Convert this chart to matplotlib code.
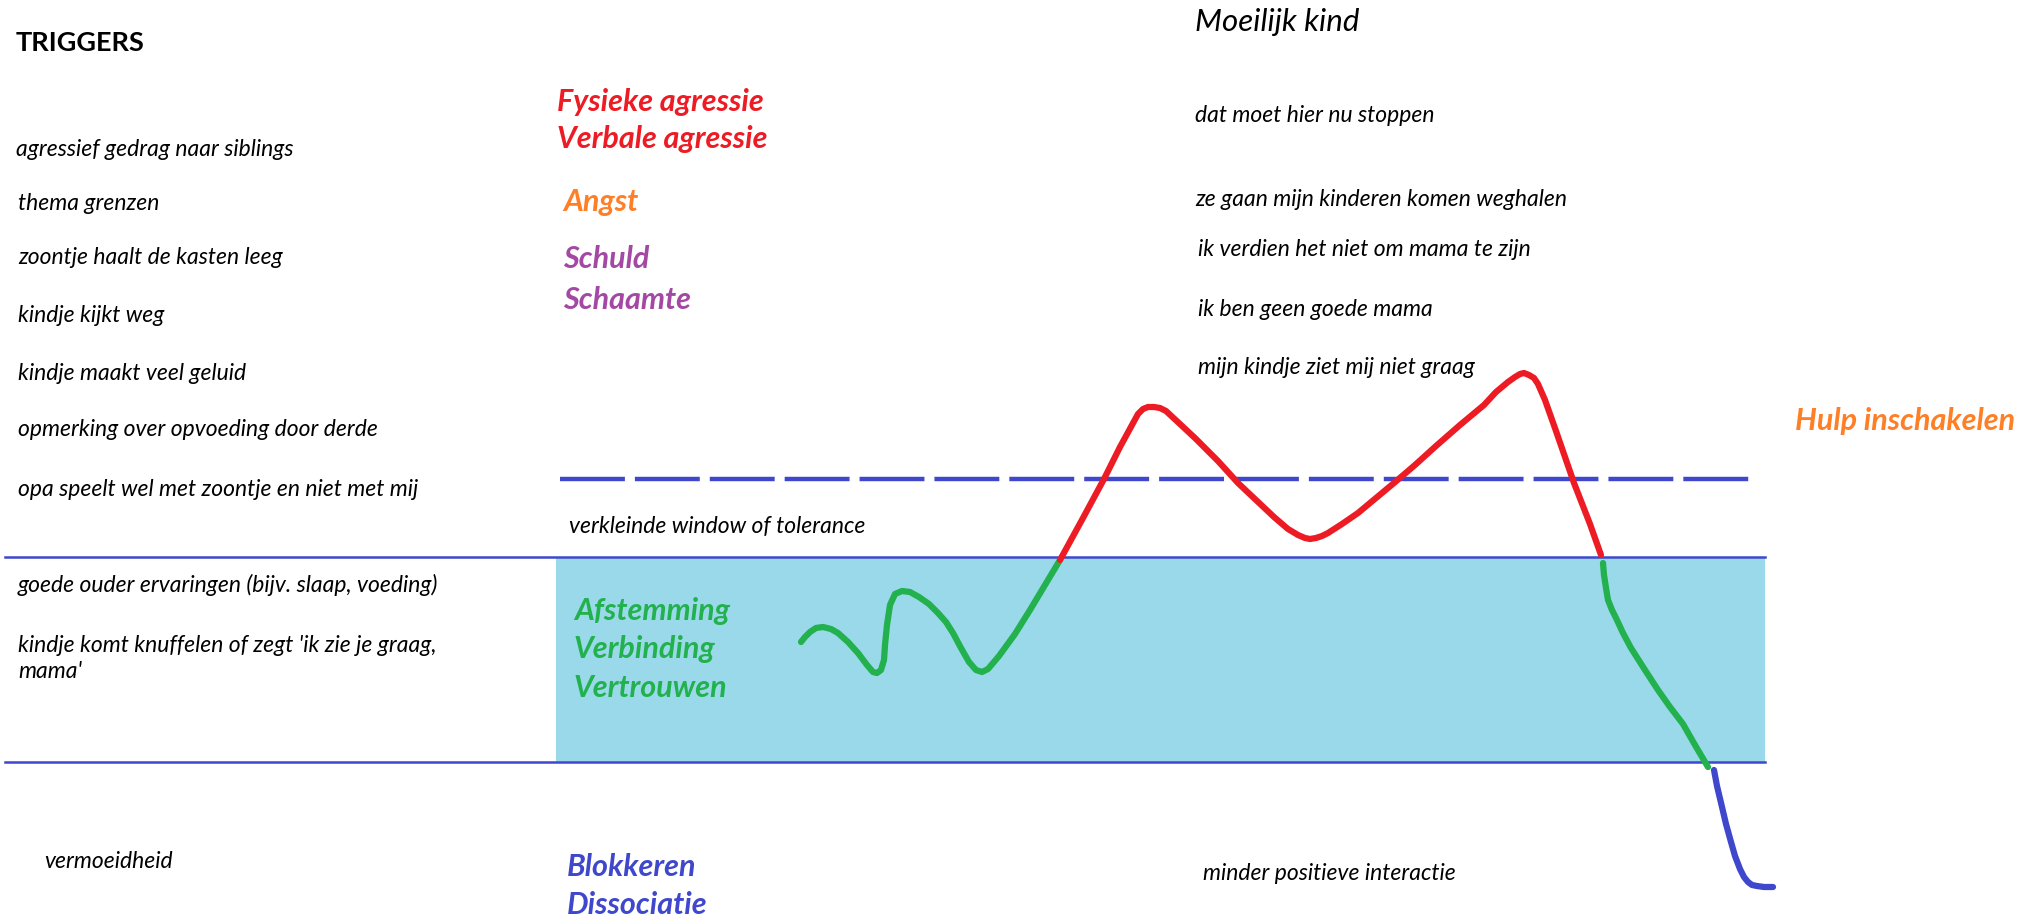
import matplotlib
matplotlib.use("Agg")
import matplotlib.pyplot as plt

# kleuren (paint palet)
ROOD = "#ED1C24"
ORANJE = "#FF7F27"
PAARS = "#A349A4"
GROEN = "#22B14C"
BLAUW = "#3F48CC"
VAK = "#99D9EA"

W, H = 2042, 918

# venster van tolerantie (pixels van de afbeelding)
wot_top = 557
wot_bottom = 762
wot_x = [556, 1765]
lijn_x = [5, 1765]
stippel_y = 479
stippel_x = [560, 1756]

# getekende curve, per stuk
groen1_x = [801, 805, 810, 816, 823, 831, 838, 848, 858, 867, 873, 877, 881, 884, 885, 887, 890,
            895, 902, 910, 919, 929, 938, 946, 953, 961, 969, 976, 982, 988, 999, 1015, 1030, 1045, 1060]
groen1_y = [642, 637, 632, 628, 627, 629, 633, 642, 653, 665, 672, 673, 670, 660, 645, 625, 605,
            594, 591, 592, 597, 604, 613, 622, 633, 648, 662, 670, 672, 669, 656, 634, 610, 585, 560]
rood_x = [1060, 1083, 1104, 1120, 1132, 1138, 1143, 1148, 1154, 1160, 1166, 1180, 1196, 1218, 1238,
          1256, 1274, 1288, 1298, 1305, 1310, 1316, 1322, 1328, 1342, 1358, 1376, 1394, 1415, 1436,
          1460, 1484, 1496, 1508, 1515, 1520, 1524, 1529, 1534, 1538, 1545, 1556, 1574, 1590, 1601]
rood_y = [560, 518, 479, 447, 425, 414, 409, 407, 407, 408, 411, 424, 439, 461, 483,
          500, 517, 529, 535, 538, 539, 538, 536, 533, 524, 513, 498, 483, 465, 446,
          425, 405, 392, 382, 377, 374, 373, 375, 378, 384, 400, 431, 483, 524, 555]
groen2_x = [1603, 1604, 1606, 1608, 1612, 1616, 1623, 1631, 1645, 1658, 1670, 1683, 1695, 1708]
groen2_y = [563, 575, 588, 600, 610, 618, 633, 648, 670, 690, 707, 724, 745, 767]
blauw_x = [1714, 1717, 1722, 1726, 1731, 1735, 1740, 1744, 1748, 1752, 1757, 1764, 1773]
blauw_y = [770, 786, 807, 824, 842, 856, 869, 877, 882, 885, 886, 887, 887]

# teksten links
triggers = ["agressief gedrag naar siblings", "thema grenzen", "zoontje haalt de kasten leeg",
            "kindje kijkt weg", "kindje maakt veel geluid", "opmerking over opvoeding door derde",
            "opa speelt wel met zoontje en niet met mij"]
triggers_x = [16, 18, 18, 18, 18, 18, 18]
triggers_y = [150, 204, 258, 315, 374, 430, 490]
goed = ["goede ouder ervaringen (bijv. slaap, voeding)", "kindje komt knuffelen of zegt 'ik zie je graag,", "mama'"]
goed_y = [585, 645, 672]

# emoties midden
emoties = ["Fysieke agressie", "Verbale agressie", "Angst", "Schuld", "Schaamte",
           "Afstemming", "Verbinding", "Vertrouwen", "Blokkeren", "Dissociatie"]
emoties_kleur = [ROOD, ROOD, ORANJE, PAARS, PAARS, GROEN, GROEN, GROEN, BLAUW, BLAUW]
emoties_x = [557, 557, 563, 563, 563, 574, 574, 574, 567, 567]
emoties_y = [102, 139, 202, 259, 300, 611, 649, 688, 867, 905]

# gedachten rechts
gedachten = ["dat moet hier nu stoppen", "ze gaan mijn kinderen komen weghalen",
             "ik verdien het niet om mama te zijn", "ik ben geen goede mama",
             "mijn kindje ziet mij niet graag", "minder positieve interactie"]
gedachten_x = [1195, 1195, 1198, 1198, 1198, 1203]
gedachten_y = [115, 199, 250, 309, 367, 873]

FONT = "Lato"
KLEIN = 16.5
GROOT = 22

fig = plt.figure(figsize=(W / 100, H / 100), dpi=100)
ax = fig.add_axes([0, 0, 1, 1])
ax.set_xlim(0, W)
ax.set_ylim(H, 0)
ax.axis("off")

ax.fill_between(wot_x, wot_top, wot_bottom, color=VAK, lw=0, zorder=1)
ax.plot(lijn_x, [wot_top, wot_top], color=BLAUW, lw=1.8, zorder=2)
ax.plot(lijn_x, [wot_bottom, wot_bottom], color=BLAUW, lw=1.8, zorder=2)
ax.plot(stippel_x, [stippel_y, stippel_y], color=BLAUW, lw=3.2, ls=(0, (14.6, 2.25)), zorder=2)

kw = dict(lw=4.5, solid_capstyle="round", solid_joinstyle="round", zorder=3)
ax.plot(groen1_x, groen1_y, color=GROEN, **kw)
ax.plot(rood_x, rood_y, color=ROOD, **kw)
ax.plot(groen2_x, groen2_y, color=GROEN, **kw)
ax.plot(blauw_x, blauw_y, color=BLAUW, **kw)

ax.text(16, 43, "TRIGGERS", fontsize=19.5, fontweight="bold", family=FONT, va="center", color="black")
for t, x, y in zip(triggers, triggers_x, triggers_y):
    ax.text(x, y, t, fontsize=KLEIN, style="italic", family=FONT, va="center")
for t, y in zip(goed, goed_y):
    ax.text(18, y, t, fontsize=KLEIN, style="italic", family=FONT, va="center")
ax.text(44, 862, "vermoeidheid", fontsize=KLEIN, style="italic", family=FONT, va="center")

for t, c, x, y in zip(emoties, emoties_kleur, emoties_x, emoties_y):
    ax.text(x, y, t, fontsize=GROOT, style="italic", fontweight="bold", family=FONT,
            color=c, va="center")
ax.text(569, 526, "verkleinde window of tolerance", fontsize=KLEIN, style="italic",
        family=FONT, va="center")

ax.text(1195, 22, "Moeilijk kind", fontsize=22.5, style="italic", family=FONT, va="center")
for t, x, y in zip(gedachten, gedachten_x, gedachten_y):
    ax.text(x, y, t, fontsize=KLEIN, style="italic", family=FONT, va="center")
ax.text(1795, 421, "Hulp inschakelen", fontsize=GROOT, style="italic", fontweight="bold",
        family=FONT, color=ORANJE, va="center")

fig.savefig("out.png", dpi=100, facecolor="white")
